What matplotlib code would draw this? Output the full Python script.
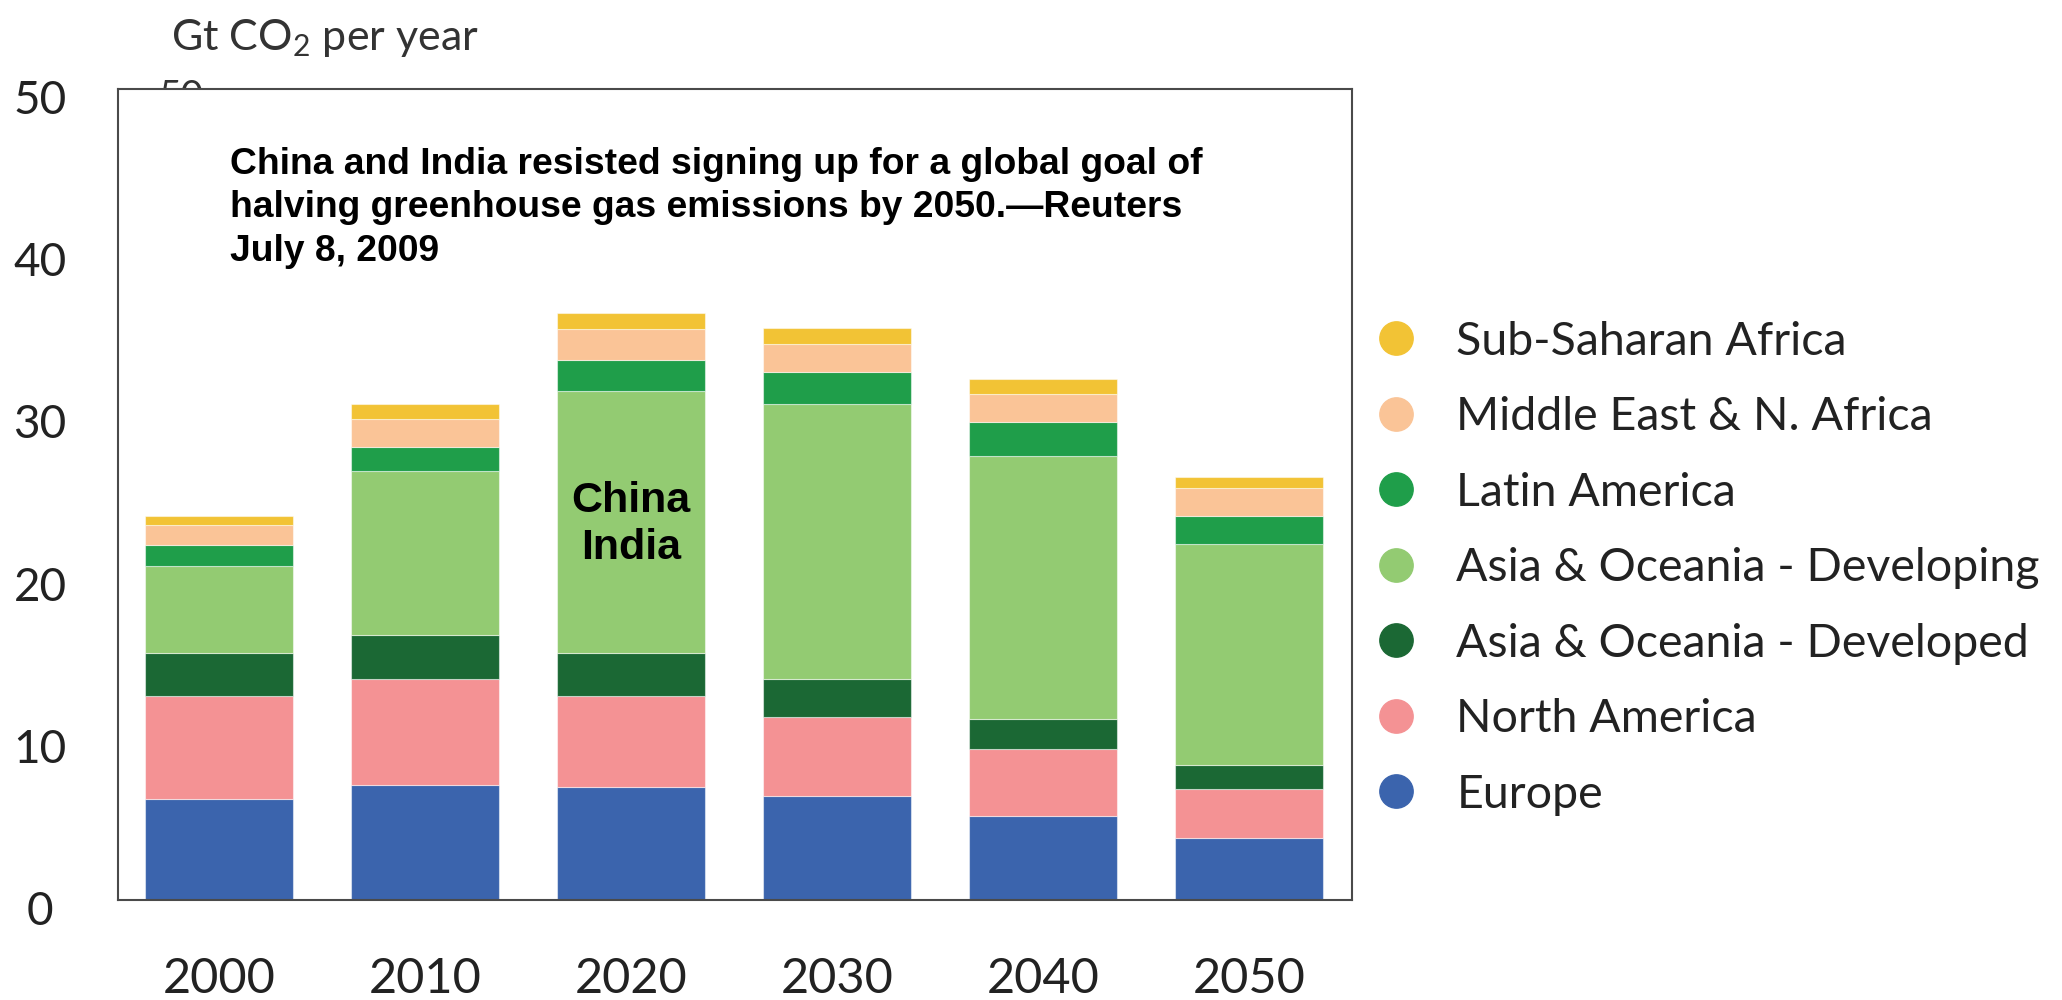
import matplotlib.pyplot as plt
import matplotlib.transforms as mtransforms
from matplotlib.lines import Line2D

plt.rcParams['font.family'] = ['Lato', 'DejaVu Sans']
plt.rcParams['mathtext.fontset'] = 'custom'
plt.rcParams['mathtext.rm'] = 'Lato'

# emissions by region, Gt CO2 per year
years = ['2000', '2010', '2020', '2030', '2040', '2050']
europe = [6.2, 7.1, 6.95, 6.4, 5.2, 3.85]
north_america = [6.4, 6.5, 5.65, 4.9, 4.1, 3.0]
asia_developed = [2.6, 2.75, 2.6, 2.3, 1.85, 1.45]
asia_developing = [5.4, 10.1, 16.2, 17.0, 16.25, 13.65]
latin_america = [1.3, 1.5, 1.9, 1.95, 2.1, 1.75]
middle_east = [1.2, 1.7, 1.9, 1.7, 1.7, 1.7]
sub_saharan = [0.6, 0.9, 1.0, 1.0, 0.9, 0.65]

series = [
    ('Europe', europe, '#3b64ad'),
    ('North America', north_america, '#f49294'),
    ('Asia & Oceania - Developed', asia_developed, '#1b6834'),
    ('Asia & Oceania - Developing', asia_developing, '#93cb72'),
    ('Latin America', latin_america, '#1f9e4a'),
    ('Middle East & N. Africa', middle_east, '#fac497'),
    ('Sub-Saharan Africa', sub_saharan, '#f2c335'),
]

fig = plt.figure(figsize=(20.62, 10), dpi=100)
ax = fig.add_axes([0.0572, 0.10, 0.5985, 0.811])

pos = range(len(years))
bottom = [0.0] * len(years)
handles = []
for name, vals, color in series:
    ax.bar(pos, vals, width=0.72, bottom=bottom, color=color,
           edgecolor=(1, 1, 1, 0.5), linewidth=0.8)
    bottom = [b + v for b, v in zip(bottom, vals)]
    handles.append(Line2D([], [], linestyle='none', marker='o', markersize=24,
                          markerfacecolor=color, markeredgecolor=color, label=name))

ax.set_xlim(-0.49, 5.5)
ax.set_ylim(0, 50)
ax.set_xticks(list(pos))
ax.set_xticklabels(years, fontsize=35, color='#222222')
ax.set_yticks(range(0, 51, 10))
ax.set_yticklabels([str(v) for v in range(0, 51, 10)], fontsize=33, color='#222222')
ax.tick_params(axis='x', length=0, pad=41)
ax.tick_params(axis='y', length=0, pad=56)

# y labels sit a little below their gridline and are centred
shift = mtransforms.ScaledTranslation(0, -0.08, fig.dpi_scale_trans)
for lab in ax.get_yticklabels():
    lab.set_horizontalalignment('center')
    lab.set_transform(lab.get_transform() + shift)

for sp in ax.spines.values():
    sp.set_color('#4a4a4a')
    sp.set_linewidth(1.5)

# leftover of an older "50" label peeking above the frame
fig.text(0.088, 0.903, '50', fontsize=28, color='#333333', ha='center',
         va='center', zorder=-1)

fig.text(0.083, 0.95, r'Gt CO$_\mathrm{2}$ per year', fontsize=31,
         color='#333333', va='baseline')

ax.text(0.091, 0.929,
        'China and India resisted signing up for a global goal of\n'
        'halving greenhouse gas emissions by 2050.\u2014Reuters\n'
        'July 8, 2009',
        transform=ax.transAxes, ha='left', va='top', fontsize=26.8,
        fontweight='bold', family='Liberation Sans', color='black',
        linespacing=1.33)

ax.text(2, 23.15, 'China\nIndia', ha='center', va='center', fontsize=31,
        fontweight='bold', family='Liberation Sans', color='black',
        linespacing=1.2)

fig.legend(handles[::-1], [h.get_label() for h in handles[::-1]],
           loc='upper left', bbox_to_anchor=(0.6567, 0.698), frameon=False,
           fontsize=33.5, handlelength=1.0, handletextpad=0.8, labelspacing=0.72,
           borderaxespad=0, labelcolor='#222222')

fig.savefig('out.png', dpi=100)
